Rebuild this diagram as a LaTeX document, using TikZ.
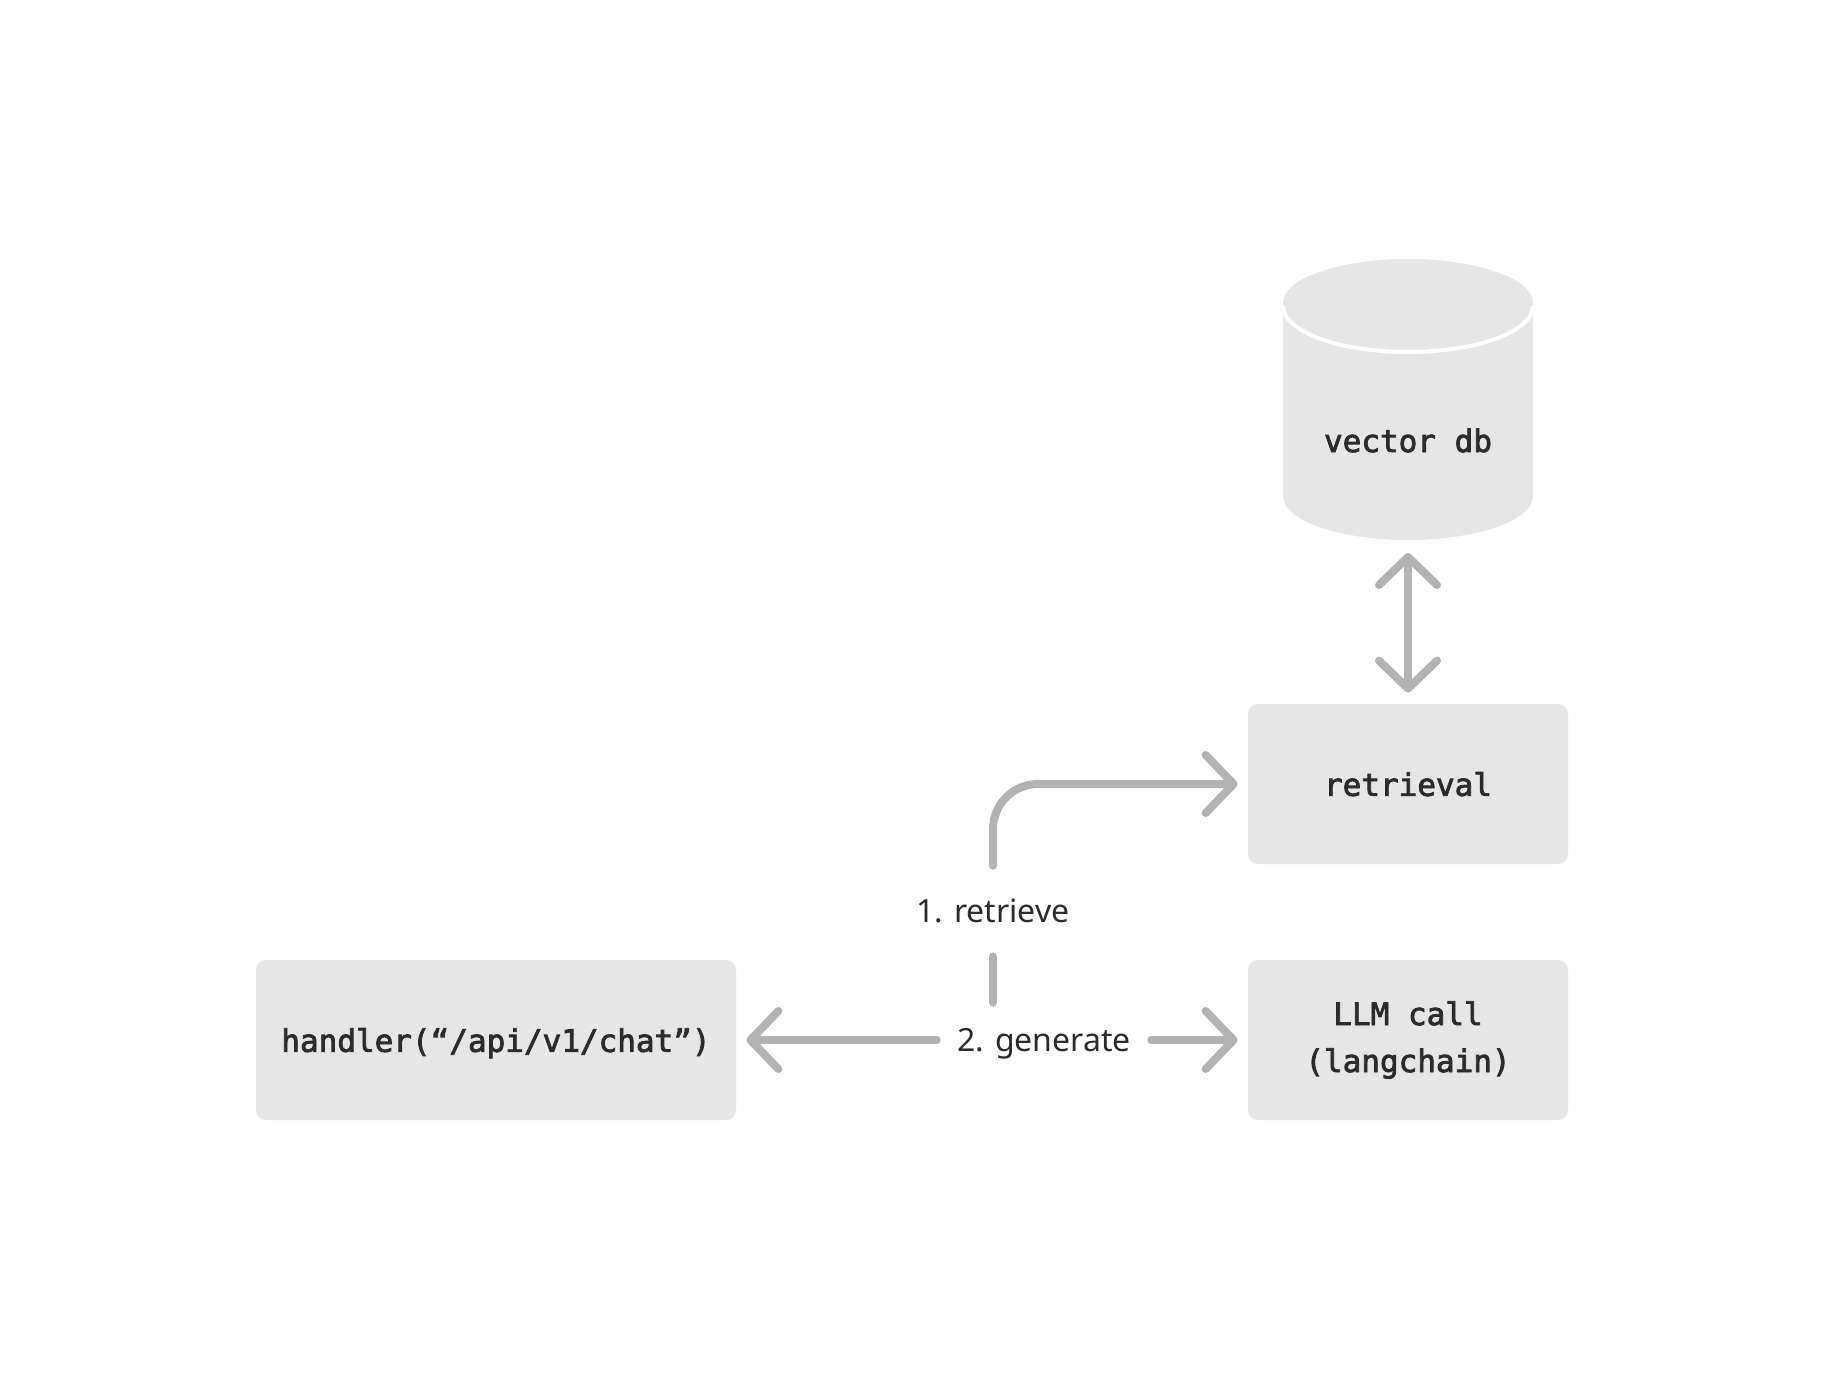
\documentclass[tikz,border=0pt]{standalone}
\usepackage{fontspec}
\setmainfont{Noto Sans}
\setmonofont{DejaVu Sans Mono}[BoldFont=DejaVu Sans Mono, BoldFeatures={FakeBold=2.5}]
\usetikzlibrary{arrows.meta}
\definecolor{boxfill}{HTML}{E6E6E6}
\definecolor{linec}{HTML}{B3B3B3}
\definecolor{txt}{HTML}{2B2B2B}
\begin{document}
\begin{tikzpicture}[x=0.5pt,y=-0.5pt,
  box/.style={fill=boxfill, rounded corners=5pt, minimum height=80pt, inner sep=0pt,
    font=\ttfamily\bfseries\fontsize{15.5}{23.5}\selectfont, text=txt},
  monotext/.style={font=\ttfamily\bfseries\fontsize{15.5}{23.5}\selectfont, text=txt, inner sep=0pt},
  conn/.style={draw=linec, line width=4pt, line cap=round, line join=round},
  arr/.style={conn, -{Straight Barb[length=14pt,width=29pt,round]}},
  lbl/.style={font=\fontsize{16}{19}\selectfont, text=txt, fill=white, inner xsep=10pt,
    inner ysep=0pt, text height=11.4pt, text depth=0pt}
]
\fill[white] (0,0) rectangle (1824,1376);
\useasboundingbox (0,0) rectangle (1824,1376);

% boxes
\node[box, minimum width=240pt, text height=11.8pt, text depth=0pt] (handler) at (496,1040) {handler(“/api/v1/chat”)};
\node[box, minimum width=160pt, text height=11.8pt, text depth=0pt] (retrieval) at (1408,784) {retrieval};
\node[box, minimum width=160pt, align=center] (llm) at (1408,1040) {\raisebox{-1.5pt}{LLM call}\\\raisebox{-1.5pt}{(langchain)}};

% vector db cylinder
\fill[boxfill] (1283,303) -- (1283,496)
  arc[start angle=180, end angle=0, x radius=125, y radius=44] -- (1533,303)
  arc[start angle=0, end angle=-180, x radius=125, y radius=44] -- cycle;
\draw[white, line width=2pt] (1283,306) arc[start angle=180, end angle=0, x radius=125, y radius=46];
\node[monotext, anchor=base] (vdb) at (1408,452) {vector db};
\coordinate (vdbbot) at (1408,540);

% labels
\node[lbl, minimum height=45pt] (lbl1) at (993,911) {1. retrieve};
\node[lbl, minimum height=37pt] (lbl2) at (1044,1040) {2. generate};

% connectors
\draw[arr, {Straight Barb[length=14pt,width=29pt,round]}-{Straight Barb[length=14pt,width=29pt,round]}]
  ([yshift=-6.5pt]vdbbot) -- ([yshift=5.5pt]retrieval.north);
\draw[arr, rounded corners=22.5pt] (lbl1.north) |- ([xshift=-5pt]retrieval.west);
\draw[conn] (lbl2.north -| lbl1.south) -- (lbl1.south);
\draw[arr] (lbl2.west) -- ([xshift=5pt]handler.east);
\draw[arr] (lbl2.east) -- ([xshift=-5pt]llm.west);
\end{tikzpicture}
\end{document}
